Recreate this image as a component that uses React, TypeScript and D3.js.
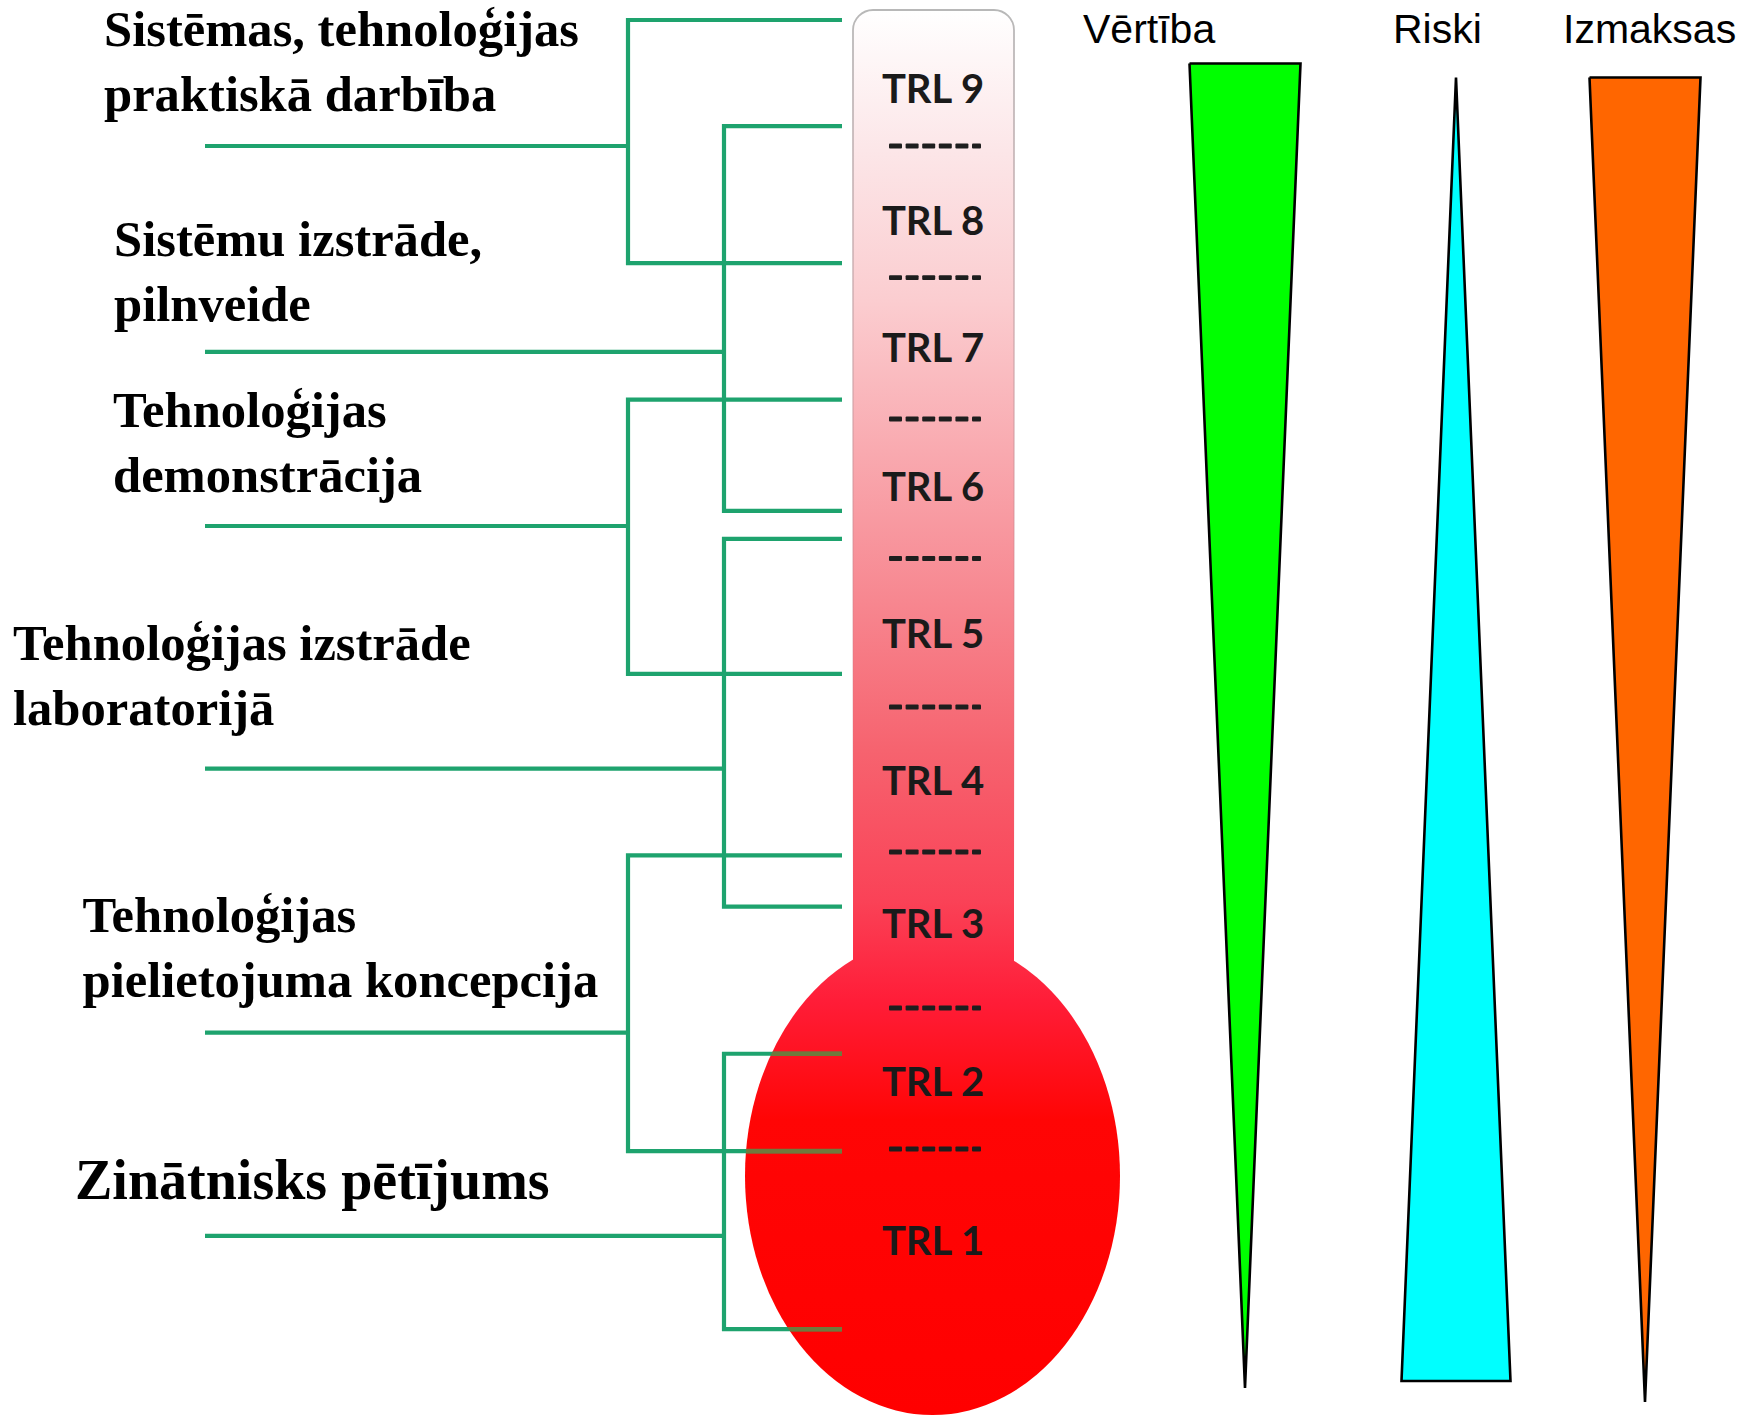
import React, { useEffect } from "react";
import * as d3 from "d3";

// ---- data ----
const trlLevels = [1, 2, 3, 4, 5, 6, 7, 8, 9];
const dashLevels = [1.5, 2.5, 3.5, 4.5, 5.5, 6.5, 7.5, 8.5];

const stageLines = [
  ["Sistēmas, tehnoloģijas", "praktiskā darbība"],
  ["Sistēmu izstrāde,", "pilnveide"],
  ["Tehnoloģijas", "demonstrācija"],
  ["Tehnoloģijas izstrāde", "laboratorijā"],
  ["Tehnoloģijas", "pielietojuma koncepcija"],
  ["Zinātnisks pētījums"],
];
// bracket extents in TRL-level units
const stageTop = [9.5, 8.73, 6.67, 5.67, 3.48, 2.24];
const stageBottom = [7.67, 5.91, 4.78, 3.18, 1.49, 0.65];
const stageStub = [8.5, 7.06, 5.78, 4.15, 2.36, 1.09];

const trendNames = ["Vērtība", "Riski", "Izmaksas"];
const trendTopWidth = [111, 0, 111];
const trendBottomWidth = [0, 109, 0];
const trendColors = ["#00ff00", "#00ffff", "#ff6600"];

// ---- layout ----
const W = 1748;
const H = 1416;
const levelKnots = [0.5, 1, 1.5, 2, 2.5, 3, 3.5, 4, 4.5, 5, 5.5, 6, 6.5, 7, 7.5, 8, 8.5, 9, 9.5];
const levelPixels = [1361, 1255, 1149, 1096, 1008, 937.5, 852, 795, 707, 648, 558.5, 500.5, 419, 362, 277.6, 235, 146, 102.6, 20];
const bracketX = [628, 724];
const armRight = 842;
const stubLeft = 205;
const labelX = [104, 114, 113, 13, 82.5, 75];
const labelOffset = [35.5, 31, 34, 44, 36, 37];
const labelSize = [50.6, 50.6, 50.6, 50.6, 50.6, 56];
const lineGap = 65;

const tube = { x0: 853, x1: 1014, top: 10, r: 20 };
const bulb = { cx: 932.5, cy: 1176, rx: 187.5, ry: 239 };

const trendCenter = [1245, 1456, 1645];
const trendTopY = [63.5, 77.5, 77.5];
const trendBottomY = [1388, 1381, 1402];
const trendLabelX = [1083, 1393, 1563];

const GREEN = "#1ea36e";
const OLIVE = "#6f7a3d";

export default function App() {
  useEffect(() => {
    document.body.style.margin = "0";
  }, []);

  const y = d3.scaleLinear().domain(levelKnots).range(levelPixels);

  const bracketPaths = stageTop.map((t, i) => {
    const bx = bracketX[i % 2];
    const p = d3.path();
    p.moveTo(armRight, y(t));
    p.lineTo(bx, y(t));
    p.lineTo(bx, y(stageBottom[i]));
    p.lineTo(armRight, y(stageBottom[i]));
    p.moveTo(stubLeft, y(stageStub[i]));
    p.lineTo(bx, y(stageStub[i]));
    return p.toString();
  });

  const armPaths = stageTop.map((t, i) => {
    const bx = bracketX[i % 2];
    const p = d3.path();
    p.moveTo(bx, y(t));
    p.lineTo(armRight, y(t));
    p.moveTo(bx, y(stageBottom[i]));
    p.lineTo(armRight, y(stageBottom[i]));
    return p.toString();
  });

  const tubeBottom = bulb.cy;
  const tubePath = (() => {
    const p = d3.path();
    const { x0, x1, top, r } = tube;
    p.moveTo(x0, tubeBottom);
    p.lineTo(x0, top + r);
    p.arcTo(x0, top, x0 + r, top, r);
    p.lineTo(x1 - r, top);
    p.arcTo(x1, top, x1, top + r, r);
    p.lineTo(x1, tubeBottom);
    return p.toString();
  })();

  const trendPolys = trendNames.map((_, i) => {
    const c = trendCenter[i];
    const tw = trendTopWidth[i] / 2;
    const bw = trendBottomWidth[i] / 2;
    const pts: [number, number][] = [
      [c - tw, trendTopY[i]],
      [c + tw, trendTopY[i]],
      [c + bw, trendBottomY[i]],
      [c - bw, trendBottomY[i]],
    ];
    return d3.line()(pts.concat([pts[0]])) + "";
  });

  const dashW = [13, 13, 13, 13, 13, 9];
  const dashGap = 3.6;
  const dashTotal = dashW.reduce((a, b) => a + b, 0) + dashGap * (dashW.length - 1);
  const dashCx = 935;

  return (
    <svg
      width={W}
      height={H}
      viewBox={`0 0 ${W} ${H}`}
      style={{ position: "absolute", left: 0, top: 0, background: "#ffffff" }}
    >
      <defs>
        <linearGradient id="thermo" gradientUnits="userSpaceOnUse" x1="0" y1="10" x2="0" y2="1415">
          <stop offset={0} stopColor="#ffffff" />
          <stop offset={(150 - 10) / 1405} stopColor="#fce6e8" />
          <stop offset={(300 - 10) / 1405} stopColor="#fbcdd0" />
          <stop offset={(450 - 10) / 1405} stopColor="#f9aab0" />
          <stop offset={(600 - 10) / 1405} stopColor="#f78790" />
          <stop offset={(750 - 10) / 1405} stopColor="#f6636f" />
          <stop offset={(900 - 10) / 1405} stopColor="#fa4257" />
          <stop offset={(1000 - 10) / 1405} stopColor="#ff1d38" />
          <stop offset={(1120 - 10) / 1405} stopColor="#ff0505" />
          <stop offset={1} stopColor="#ff0000" />
        </linearGradient>
        <linearGradient id="tubeStroke" gradientUnits="userSpaceOnUse" x1="0" y1="10" x2="0" y2="900">
          <stop offset={0} stopColor="#b8b8b8" stopOpacity={1} />
          <stop offset={0.4} stopColor="#c8a0a4" stopOpacity={0.6} />
          <stop offset={1} stopColor="#e05060" stopOpacity={0} />
        </linearGradient>
        <clipPath id="bulbClip">
          <ellipse cx={bulb.cx} cy={bulb.cy} rx={bulb.rx} ry={bulb.ry} />
        </clipPath>
      </defs>

      {/* thermometer */}
      <path d={tubePath + "Z"} fill="url(#thermo)" />
      <path d={tubePath} fill="none" stroke="url(#tubeStroke)" strokeWidth={1.8} />
      <ellipse cx={bulb.cx} cy={bulb.cy} rx={bulb.rx} ry={bulb.ry} fill="url(#thermo)" />

      {/* TRL labels */}
      {trlLevels.map((lv) => (
        <text
          key={lv}
          x={933}
          y={y(lv)}
          textAnchor="middle"
          fontFamily="Lato, 'Open Sans', sans-serif"
          fontWeight={700}
          fontSize={40}
          fill="#1a1a1a"
        >
          {`TRL ${lv}`}
        </text>
      ))}
      {dashLevels.map((lv) => {
        let x = dashCx - dashTotal / 2;
        return (
          <g key={lv}>
            {dashW.map((w, k) => {
              const r = <rect key={k} x={x} y={y(lv) - 2.4} width={w} height={4.8} rx={1} fill="#1e1e1e" />;
              x += w + dashGap;
              return r;
            })}
          </g>
        );
      })}

      {/* brackets */}
      {bracketPaths.map((d, i) => (
        <path key={i} d={d} fill="none" stroke={GREEN} strokeWidth={4.2} strokeLinecap="butt" strokeLinejoin="miter" />
      ))}
      <g clipPath="url(#bulbClip)">
        {armPaths.map((d, i) => (
          <path key={i} d={d} fill="none" stroke={OLIVE} strokeWidth={4.6} />
        ))}
      </g>

      {/* stage labels */}
      {stageLines.map((lines, i) => {
        const lastBase = y(stageStub[i]) - labelOffset[i];
        return (
          <text
            key={i}
            fontFamily="'Liberation Serif', 'Times New Roman', serif"
            fontWeight={700}
            fontSize={labelSize[i]}
            fill="#000"
          >
            {lines.map((ln, k) => (
              <tspan key={k} x={labelX[i]} y={lastBase - (lines.length - 1 - k) * lineGap}>
                {ln}
              </tspan>
            ))}
          </text>
        );
      })}

      {/* trend wedges */}
      {trendPolys.map((d, i) => (
        <path key={i} d={d} fill={trendColors[i]} stroke="#000" strokeWidth={2.6} strokeLinejoin="miter" />
      ))}
      {trendNames.map((n, i) => (
        <text
          key={n}
          x={trendLabelX[i]}
          y={42.7}
          fontFamily="'Liberation Sans', Arial, sans-serif"
          fontSize={41}
          fill="#000"
        >
          {n}
        </text>
      ))}
    </svg>
  );
}
